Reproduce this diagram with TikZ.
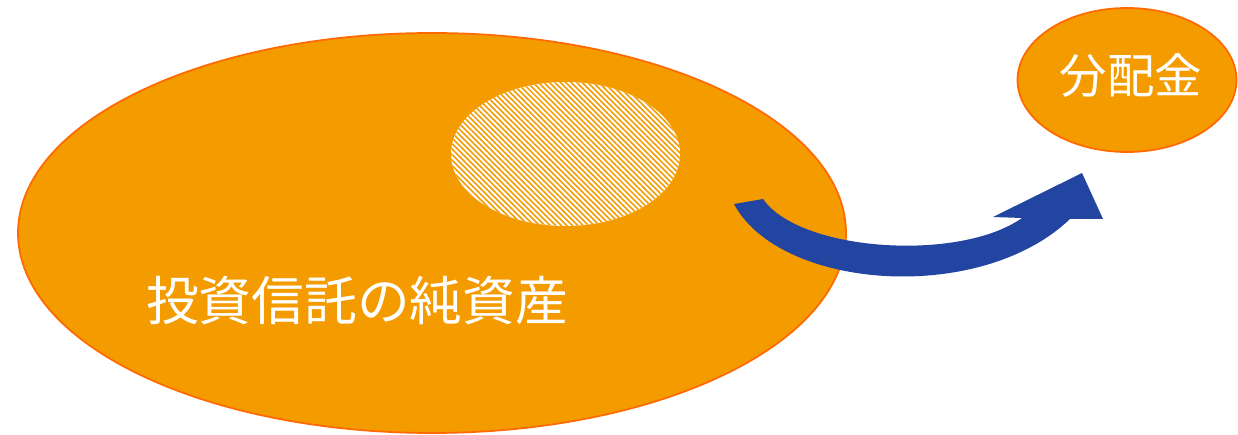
\documentclass[tikz,border=0pt]{standalone}
\usepackage{fontspec}
\newfontfamily\jp{Noto Sans CJK JP}
\usetikzlibrary{patterns.meta}
\definecolor{fillor}{RGB}{244,155,0}
\definecolor{edgeor}{RGB}{255,106,0}
\definecolor{arrblue}{RGB}{33,69,161}
\tikzset{
  blob/.style={draw=edgeor, line width=1pt, fill=fillor},
  lbl/.style={text=white, font=\jp},
}
\begin{document}
\begin{tikzpicture}[x=0.02cm,y=-0.02cm]
\useasboundingbox (0,0) rectangle (1238,435);
% big ellipse
\draw[blob] (432,233) ellipse [x radius=414, y radius=200];
\coordinate (big) at (432,233);
% hatched ellipse
\fill[white] (565.5,154) ellipse [x radius=114.5, y radius=72];
\fill[pattern={Lines[angle=-45,distance=2.2pt,line width=0.9pt]}, pattern color=fillor] (565.5,154) ellipse [x radius=114.5, y radius=72];
\coordinate (hatch) at (565.5,154);
% small ellipse
\draw[blob] (1127,80) ellipse [x radius=109.5, y radius=72];
\node[lbl, font=\jp\fontsize{27pt}{31pt}\selectfont] (div) at (1131,76) {分配金};
\node[lbl, font=\jp\fontsize{30pt}{34pt}\selectfont] (nav) at (357,301) {投資信託の純資産};
% curved block arrow
\fill[arrblue] (734,204) .. controls (780,290) and (980,305) .. (1070,219)
  -- (1103,219) -- (1082,173) -- (993,217) -- (1022,218)
  .. controls (960,262) and (800,252) .. (763,199) -- cycle;
\end{tikzpicture}
\end{document}
